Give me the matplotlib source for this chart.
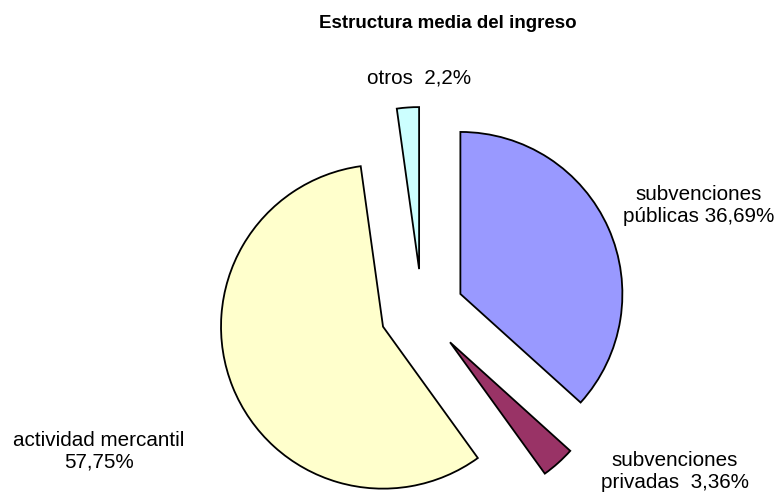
import matplotlib
matplotlib.use("Agg")
import matplotlib.pyplot as plt

# ---- data ----
categories = ["subvenciones\npúblicas", "subvenciones\nprivadas", "actividad mercantil\n", "otros"]
values = [36.69, 3.36, 57.75, 2.2]
colors = ["#9999FF", "#993366", "#FFFFCC", "#CCFFFF"]
title = "Estructura media del ingreso"

# ---- layout (pixel positions of label centres, y measured from top) ----
W, H = 781, 496
center_px = (422, 311)
radius_px = 162
explode_px = [42, 42, 42, 42]
label_pos = [(699, 206), (675, 471), (99, 451), (419, 78)]
label_sep = [" ", "  ", "", "  "]

plt.rcParams['font.family'] = ['Liberation Sans', 'DejaVu Sans']

fig = plt.figure(figsize=(W / 100, H / 100), dpi=100)
ax = fig.add_axes([0, 0, 1, 1])

ax.pie(values, colors=colors, explode=explode_px, startangle=90, counterclock=False,
       radius=radius_px, center=(center_px[0], H - center_px[1]),
       wedgeprops=dict(edgecolor="black", linewidth=1.3, joinstyle="miter"))

ax.set_xlim(0, W)
ax.set_ylim(0, H)
ax.set_aspect("equal")
ax.axis("off")

for cat, v, sep, (x, y) in zip(categories, values, label_sep, label_pos):
    pct = f"{v:g}".replace(".", ",") + "%"
    txt = cat + sep + pct
    ax.text(x, H - y, txt, ha="center", va="center", fontsize=14.9,
            linespacing=1.2, color="black")

ax.text(448, H - 24, title, ha="center", va="center", fontsize=13.5,
        fontweight="bold", color="black")

fig.savefig("out.png", dpi=100)
